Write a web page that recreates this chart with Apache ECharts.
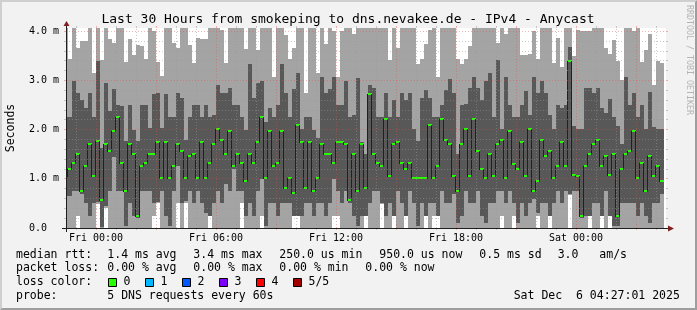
<!DOCTYPE html>
<html><head><meta charset="utf-8">
<script src="https://cdn.jsdelivr.net/npm/echarts@6/dist/echarts.min.js"></script>
<style>html,body{margin:0;padding:0;background:#f2f2f2}#c{width:697px;height:310px}</style>
</head><body><div id="c"></div>
<script>
// ---------------- data ----------------
const titleText = 'Last 30 Hours from smokeping to dns.nevakee.de - IPv4 - Anycast';
const firstColStart = -1.6;   // hours relative to Fri 00:00 (start of first 12-minute column)
const stepHours = 0.2;        // 12 minutes per column
const xMinHours = -1.5, xMaxHours = 28.5;
const tickHours = [0, 6, 12, 18, 24];
const tickText = ['Fri 00:00', 'Fri 06:00', 'Fri 12:00', 'Fri 18:00', 'Sat 00:00'];
const yTicks = [0, 1, 2, 3, 4];
const yTickText = ['0.0', '1.0 m', '2.0 m', '3.0 m', '4.0 m'];
const yMax = 4.07;

// smoke: sorted ping rtts per column, in ms (p1 = fastest ... p5 = slowest)
const pMin = [0,0,0,0.24,0,0,0,0,0.48,0,
 0.41,0,0,0,0,0,0,0,0,0,
 0,0,0.25,0.50,0,0,0,0,0.50,0,
 0.50,0,0,0,0,0,0.24,0,0,0,
 0,0,0,0,0.50,0,0,0,0,0.24,
 0,0,0,0,0,0,0,0.24,0.24,0,
 0,0,0,0,0,0,0,0.25,0.24,0,
 0,0,0,0,0,0.24,0,0,0,0.48,
 0,0,0.24,0,0,0.24,0,0,0,0,
 0.24,0,0.25,0.24,0,0,0,0,0,0,
 0,0,0,0,0,0,0,0,0,0.24,
 0,0,0.24,0,0,0,0,0,0.24,0,
 0,0.24,0,0,0,0,0.68,0,0,0,
 0,0.24,0,0,0.24,0,0.24,0,0,0,
 0,0,0,0,0,0,0,0,0,0];
const pLow = [0.65,0.65,0.75,0.75,0.70,0.50,0.25,0.50,0.52,0.02,
 0.45,0.75,1.45,0.75,0.75,0.05,0.50,0.25,0.20,0.75,
 0.75,0.75,0.50,0.52,0.75,0.25,0.05,0.75,1.26,0.50,
 0.55,0.75,0.50,0.75,0.50,0.30,0.25,0.50,0.75,0.50,
 0.90,0.75,1.20,0.75,0.75,0.25,0.50,0.25,0.75,1.00,
 0.05,0.50,0.50,0.25,0.50,0.50,0.50,0.25,0.25,0.25,
 0.50,0.50,0.25,0.50,0.50,0.25,0.50,1.00,0.75,0.50,
 0.75,0.50,0.25,0.05,0.25,0.25,0.50,0.75,0.75,0.50,
 0.25,0.50,0.25,0.75,0.50,0.25,0.75,0.50,0.05,0.50,
 0.25,0.50,0.50,0.25,0.75,0.50,0.50,0.70,0.10,0.25,
 0.75,0.50,0.50,0.75,0.25,0.10,0.50,0.50,0.75,0.75,
 0.50,0.75,0.50,0.10,0.50,0.25,0.50,0.60,0.30,0.50,
 0.50,0.25,0.50,0.75,0.50,0.75,0.70,0.75,0.75,0.20,
 0.25,0.25,0.50,0.50,0.25,0.75,0.25,0.05,0.05,0.50,
 0.50,0.50,0.50,0.25,0.50,0.25,0.10,0.50,0.50,0.70];
const median = [1.05,1.21,1.32,1.50,0.75,1.26,1.70,1.05,1.78,0.56,
 1.70,1.56,1.97,2.25,1.32,0.75,1.70,1.50,0.25,1.26,
 1.32,1.50,1.50,1.76,1.01,1.76,1.01,1.26,1.70,1.56,
 1.01,1.46,1.50,1.01,1.76,1.01,1.32,1.70,2.01,1.80,
 1.50,1.97,1.26,1.50,1.32,0.95,1.50,1.32,1.76,2.25,
 1.01,1.97,1.26,1.32,1.97,0.81,1.01,0.71,2.09,1.76,
 0.81,1.76,0.75,1.01,1.70,1.50,1.50,1.32,1.76,1.76,
 1.70,0.56,1.50,0.75,1.70,0.81,2.72,1.50,1.32,1.26,
 2.21,1.05,1.70,1.76,1.32,1.21,1.32,1.01,1.01,1.01,
 1.01,2.09,1.01,1.26,2.21,1.80,1.70,1.05,0.75,1.70,
 2.01,1.05,2.21,1.56,1.21,1.01,1.50,1.05,1.70,1.79,
 1.01,1.97,1.30,1.21,1.76,1.05,2.01,0.75,0.95,1.80,
 1.46,1.56,1.01,1.26,1.76,1.26,3.39,1.07,1.05,0.25,
 1.26,1.50,1.70,1.80,1.26,1.46,1.07,1.50,0.25,1.21,
 1.50,1.56,1.97,1.01,1.32,0.75,1.46,1.05,1.26,0.95];
const pHigh = [2.25,2.25,2.99,2.75,2.60,2.45,2.75,2.25,3.40,1.62,
 2.96,2.38,2.82,2.50,2.48,1.77,2.50,1.99,1.77,2.50,
 2.50,2.04,2.72,2.75,2.04,2.72,2.25,2.25,2.75,2.64,
 1.80,2.25,2.50,2.50,2.25,2.50,2.25,2.30,2.91,2.75,
 2.75,2.84,2.50,2.50,2.25,2.00,3.34,2.64,2.96,2.99,
 2.15,2.45,2.25,2.50,3.34,2.75,2.25,2.82,3.16,2.01,
 2.25,2.25,2.00,1.84,3.07,2.75,2.82,3.07,2.50,2.50,
 2.99,2.25,2.30,3.06,1.75,1.50,2.90,2.84,2.25,2.25,
 2.75,2.25,2.60,2.25,2.75,2.60,2.75,2.01,1.77,2.64,
 2.80,2.64,2.25,2.25,2.50,2.80,3.04,2.75,1.50,2.50,
 2.52,2.84,3.07,2.84,2.60,2.99,3.16,2.25,3.42,2.01,
 3.07,2.50,2.25,2.25,2.50,2.79,2.30,3.07,2.75,2.99,
 2.75,2.30,2.01,2.50,2.45,2.50,3.69,2.08,2.01,2.01,
 2.84,2.84,2.75,2.84,2.45,2.35,2.63,2.25,2.08,1.70,
 3.07,2.50,2.75,2.25,2.50,2.01,2.77,2.06,2.01,2.01];
const pMax = [4.2,3.43,4.2,3.67,3.81,3.81,4.2,3.15,4.2,3.41,
 4.2,3.84,3.76,4.2,4.2,3.37,3.84,3.52,3.72,3.70,
 3.43,4.2,4.0,3.37,3.09,4.2,4.2,3.76,3.67,4.2,
 4.2,3.72,3.35,3.87,3.84,3.84,4.2,4.2,4.2,4.02,
 3.35,4.2,4.2,4.2,4.2,3.64,4.2,4.2,3.62,4.2,
 4.2,4.2,3.08,4.2,4.2,3.93,3.43,3.67,4.2,4.2,
 2.75,4.2,4.2,3.16,4.2,3.74,4.2,4.0,3.08,4.0,
 4.2,4.2,3.94,4.2,4.2,4.2,4.2,4.2,4.2,4.2,
 4.2,3.41,4.2,3.67,4.2,4.2,4.2,4.2,3.34,3.43,
 3.75,4.02,4.2,3.08,4.2,4.2,4.2,4.2,3.43,3.34,
 3.43,3.70,4.2,4.2,4.2,4.2,4.2,4.2,3.76,4.2,
 3.94,4.2,4.2,4.2,3.52,3.52,3.55,4.0,3.43,4.2,
 4.2,4.2,3.35,3.87,3.28,4.2,4.2,3.50,4.02,4.0,
 4.0,4.0,4.2,4.2,4.2,3.67,3.55,3.82,3.40,3.01,
 4.2,4.2,4.0,4.2,3.37,3.62,3.94,2.90,3.40,3.35];

// legend / footer text
const legendRows = [
  [['median rtt:', 16], ['1.4 ms avg', 107.3], ['3.4 ms max', 193.3], ['250.0 us min', 279.3], ['950.0 us now', 379.3], ['0.5 ms sd', 479.3], ['3.0', 557.7], ['am/s', 599.3]],
  [['packet loss:', 16], ['0.00 % avg', 107.3], ['0.00 % max', 193.3], ['0.00 % min', 279.3], ['0.00 % now', 365.3]],
  [['loss color:', 16]],
  [['probe:', 16], ['5 DNS requests every 60s', 107.3], ['Sat Dec  6 04:27:01 2025', 513.7]]
];
const lossLabels = ['0', '1', '2', '3', '4', '5/5'];
const lossColors = ['#26ff00', '#00b8ff', '#0059ff', '#7e00ff', '#ff0000', '#a00000'];

// ---------------- styling / layout ----------------
const MONO = "'DejaVu Sans Mono', monospace";
const GRID = { left: 66, top: 28, width: 600, height: 200 };
const LIGHT = '#a4a4a4', DARK = '#585858', MED_LINE = '#202020';
const MINOR_C = 'rgba(150,150,150,0.5)', MAJOR_C = 'rgba(222,79,79,0.42)';
const rowY = [254.7, 268.5, 282.3, 296.2];

const smokeData = median.map((m, i) => [
  firstColStart + i * stepHours, firstColStart + (i + 1) * stepHours,
  pMin[i], pLow[i], m, pHigh[i], pMax[i], i > 0 ? median[i - 1] : m
]);

// grid line definitions: [kind (0 = vertical hour, 1 = horizontal ms), value, major]
const gridData = [];
for (let h = -1; h <= 28; h++) gridData.push([0, h, h % 3 === 0 ? 1 : 0]);
for (let k = 1; k <= 20; k++) gridData.push([1, k / 5, k % 5 === 0 ? 1 : 0]);

function renderSmoke(params, api) {
  const cs = params.coordSys;
  const left = cs.x, right = cs.x + cs.width;
  const t0 = api.value(0), t1 = api.value(1);
  let xa = Math.round(api.coord([t0, 0])[0]);
  let xb = Math.round(api.coord([t1, 0])[0]);
  const rawXa = xa;
  xa = Math.max(xa, left); xb = Math.min(xb, right);
  if (xb <= xa) return;
  const Y = v => Math.round(api.coord([t0, Math.min(Math.max(v, 0), yMax)])[1]);
  const y1 = Y(api.value(2)), y2 = Y(api.value(3)), ym = Y(api.value(4)),
        y4 = Y(api.value(5)), y5 = Y(api.value(6)), yp = Y(api.value(7));
  const ch = [
    { type: 'rect', shape: { x: xa, y: y5, width: xb - xa, height: y1 - y5 }, style: { fill: LIGHT } },
    { type: 'rect', shape: { x: xa, y: y4, width: xb - xa, height: y2 - y4 }, style: { fill: DARK } },
    { type: 'line', shape: { x1: xa, y1: ym + 0.5, x2: xb, y2: ym + 0.5 }, style: { stroke: MED_LINE, lineWidth: 1 } }
  ];
  if (params.dataIndex > 0 && yp !== ym && rawXa > left) {
    ch.push({ type: 'line', shape: { x1: rawXa - 0.5, y1: Math.min(yp, ym), x2: rawXa - 0.5, y2: Math.max(yp, ym) + 1 },
              style: { stroke: MED_LINE, lineWidth: 1 } });
  }
  ch.push({ type: 'rect', shape: { x: xa, y: ym - 1, width: xb - xa, height: 2 }, style: { fill: lossColors[0] } });
  return { type: 'group', children: ch };
}

function renderGrid(params, api) {
  const cs = params.coordSys;
  const X0 = cs.x, X1 = cs.x + cs.width, Yt = cs.y, Yb = cs.y + cs.height;
  const kind = api.value(0), val = api.value(1), major = api.value(2);
  const color = major ? MAJOR_C : MINOR_C;
  const solid = { stroke: color, lineWidth: 1 };
  const dashed = { stroke: color, lineWidth: 1, lineDash: [1, 2] };
  if (kind === 0) {
    const x = Math.floor(api.coord([val, 0])[0] + 0.01) + 0.5;
    return { type: 'group', children: [
      { type: 'line', shape: { x1: x, y1: Yb, x2: x, y2: Yb + 2 }, style: solid },
      { type: 'line', shape: { x1: x, y1: Yt - 2, x2: x, y2: Yt }, style: solid },
      { type: 'line', shape: { x1: x, y1: Yb, x2: x, y2: Yt }, style: dashed }
    ]};
  } else {
    const y = Math.floor(api.coord([0, val])[1] + 0.01) + 0.5;
    return { type: 'group', children: [
      { type: 'line', shape: { x1: X0 - 2, y1: y, x2: X0, y2: y }, style: solid },
      { type: 'line', shape: { x1: X1, y1: y, x2: X1 + 2, y2: y }, style: solid },
      { type: 'line', shape: { x1: X0, y1: y, x2: X1, y2: y }, style: dashed }
    ]};
  }
}

// ---------------- graphics (frame, texts, legend) ----------------
const graphics = [
  { type: 'polygon', z: 0, shape: { points: [[0,0],[697,0],[695,2],[2,2],[2,308],[0,310]] }, style: { fill: '#cfcfcf' } },
  { type: 'polygon', z: 0, shape: { points: [[697,0],[697,310],[0,310],[2,308],[695,308],[695,2]] }, style: { fill: '#9e9e9e' } },
  { type: 'text', z: 20, x: 348, y: 20, style: { text: titleText, font: '13px ' + MONO, fill: '#000', textAlign: 'center', textVerticalAlign: 'middle' } },
  { type: 'text', z: 20, x: 11.5, y: 128, rotation: Math.PI / 2, style: { text: 'Seconds', font: '11.5px ' + MONO, fill: '#000', textAlign: 'center', textVerticalAlign: 'middle' } },
  { type: 'text', z: 20, x: 689, y: 60, rotation: -Math.PI / 2, style: { text: 'RRDTOOL / TOBI OETIKER', font: '8.3px ' + MONO, fill: '#b4b4b4', textAlign: 'center', textVerticalAlign: 'middle' } },
  // axes
  { type: 'line', z: 30, shape: { x1: GRID.left - 4, y1: GRID.top + GRID.height + 0.5, x2: GRID.left + GRID.width + 4, y2: GRID.top + GRID.height + 0.5 }, style: { stroke: '#1f1f1f', lineWidth: 1 } },
  { type: 'line', z: 30, shape: { x1: GRID.left + 0.5, y1: GRID.top + GRID.height + 4, x2: GRID.left + 0.5, y2: GRID.top - 4 }, style: { stroke: '#1f1f1f', lineWidth: 1 } },
  { type: 'polygon', z: 31, shape: { points: [[GRID.left + GRID.width + 2, GRID.top + GRID.height + 0.5 - 3], [GRID.left + GRID.width + 2, GRID.top + GRID.height + 0.5 + 3], [GRID.left + GRID.width + 8, GRID.top + GRID.height + 0.5]] }, style: { fill: '#801f1f' } },
  { type: 'polygon', z: 31, shape: { points: [[GRID.left + 0.5 - 3, GRID.top - 2], [GRID.left + 0.5 + 3, GRID.top - 2], [GRID.left + 0.5, GRID.top - 7]] }, style: { fill: '#801f1f' } }
];
legendRows.forEach((row, r) => row.forEach(([t, x]) => graphics.push(
  { type: 'text', z: 20, x: x, y: rowY[r], style: { text: t, font: '11.5px ' + MONO, fill: '#000', textAlign: 'left', textVerticalAlign: 'middle' } })));
lossLabels.forEach((lbl, i) => {
  const bx = 108.5 + i * 37.0;
  graphics.push({ type: 'rect', z: 20, shape: { x: Math.floor(bx) + 0.5, y: 278.5, width: 8, height: 8 }, style: { fill: lossColors[i], stroke: '#000', lineWidth: 1 } });
  graphics.push({ type: 'text', z: 20, x: bx + 15, y: rowY[2], style: { text: lbl, font: '11.5px ' + MONO, fill: '#000', textAlign: 'left', textVerticalAlign: 'middle' } });
});

const chart = echarts.init(document.getElementById('c'), null, { renderer: 'canvas', width: 697, height: 310 });
chart.setOption({
  animation: false,
  backgroundColor: '#f2f2f2',
  grid: { left: GRID.left, top: GRID.top, width: GRID.width, height: GRID.height, show: true, backgroundColor: '#ffffff', borderWidth: 0 },
  xAxis: {
    type: 'value', min: xMinHours, max: xMaxHours,
    axisLine: { show: false }, axisTick: { show: false }, splitLine: { show: false },
    axisLabel: {
      customValues: tickHours, margin: 10, verticalAlign: 'middle',
      fontFamily: 'DejaVu Sans Mono', fontSize: 10, color: '#000',
      formatter: v => { const k = tickHours.indexOf(Math.round(v * 1000) / 1000); return k >= 0 ? tickText[k] : ''; }
    }
  },
  yAxis: {
    type: 'value', min: 0, max: yMax, interval: 1,
    axisLine: { show: false }, axisTick: { show: false }, splitLine: { show: false },
    axisLabel: {
      align: 'left', margin: 37, showMaxLabel: false,
      fontFamily: 'DejaVu Sans Mono', fontSize: 10, color: '#000',
      formatter: v => { const k = yTicks.indexOf(v); return k >= 0 ? yTickText[k] : ''; }
    }
  },
  graphic: graphics,
  series: [
    { type: 'custom', name: 'smoke', z: 2, silent: true, renderItem: renderSmoke, data: smokeData, encode: { x: [0, 1], y: [2, 3, 4, 5, 6] } },
    { type: 'custom', name: 'grid', z: 5, silent: true, renderItem: renderGrid, data: gridData, encode: { x: 1, y: 1 } }
  ]
});
</script></body></html>
